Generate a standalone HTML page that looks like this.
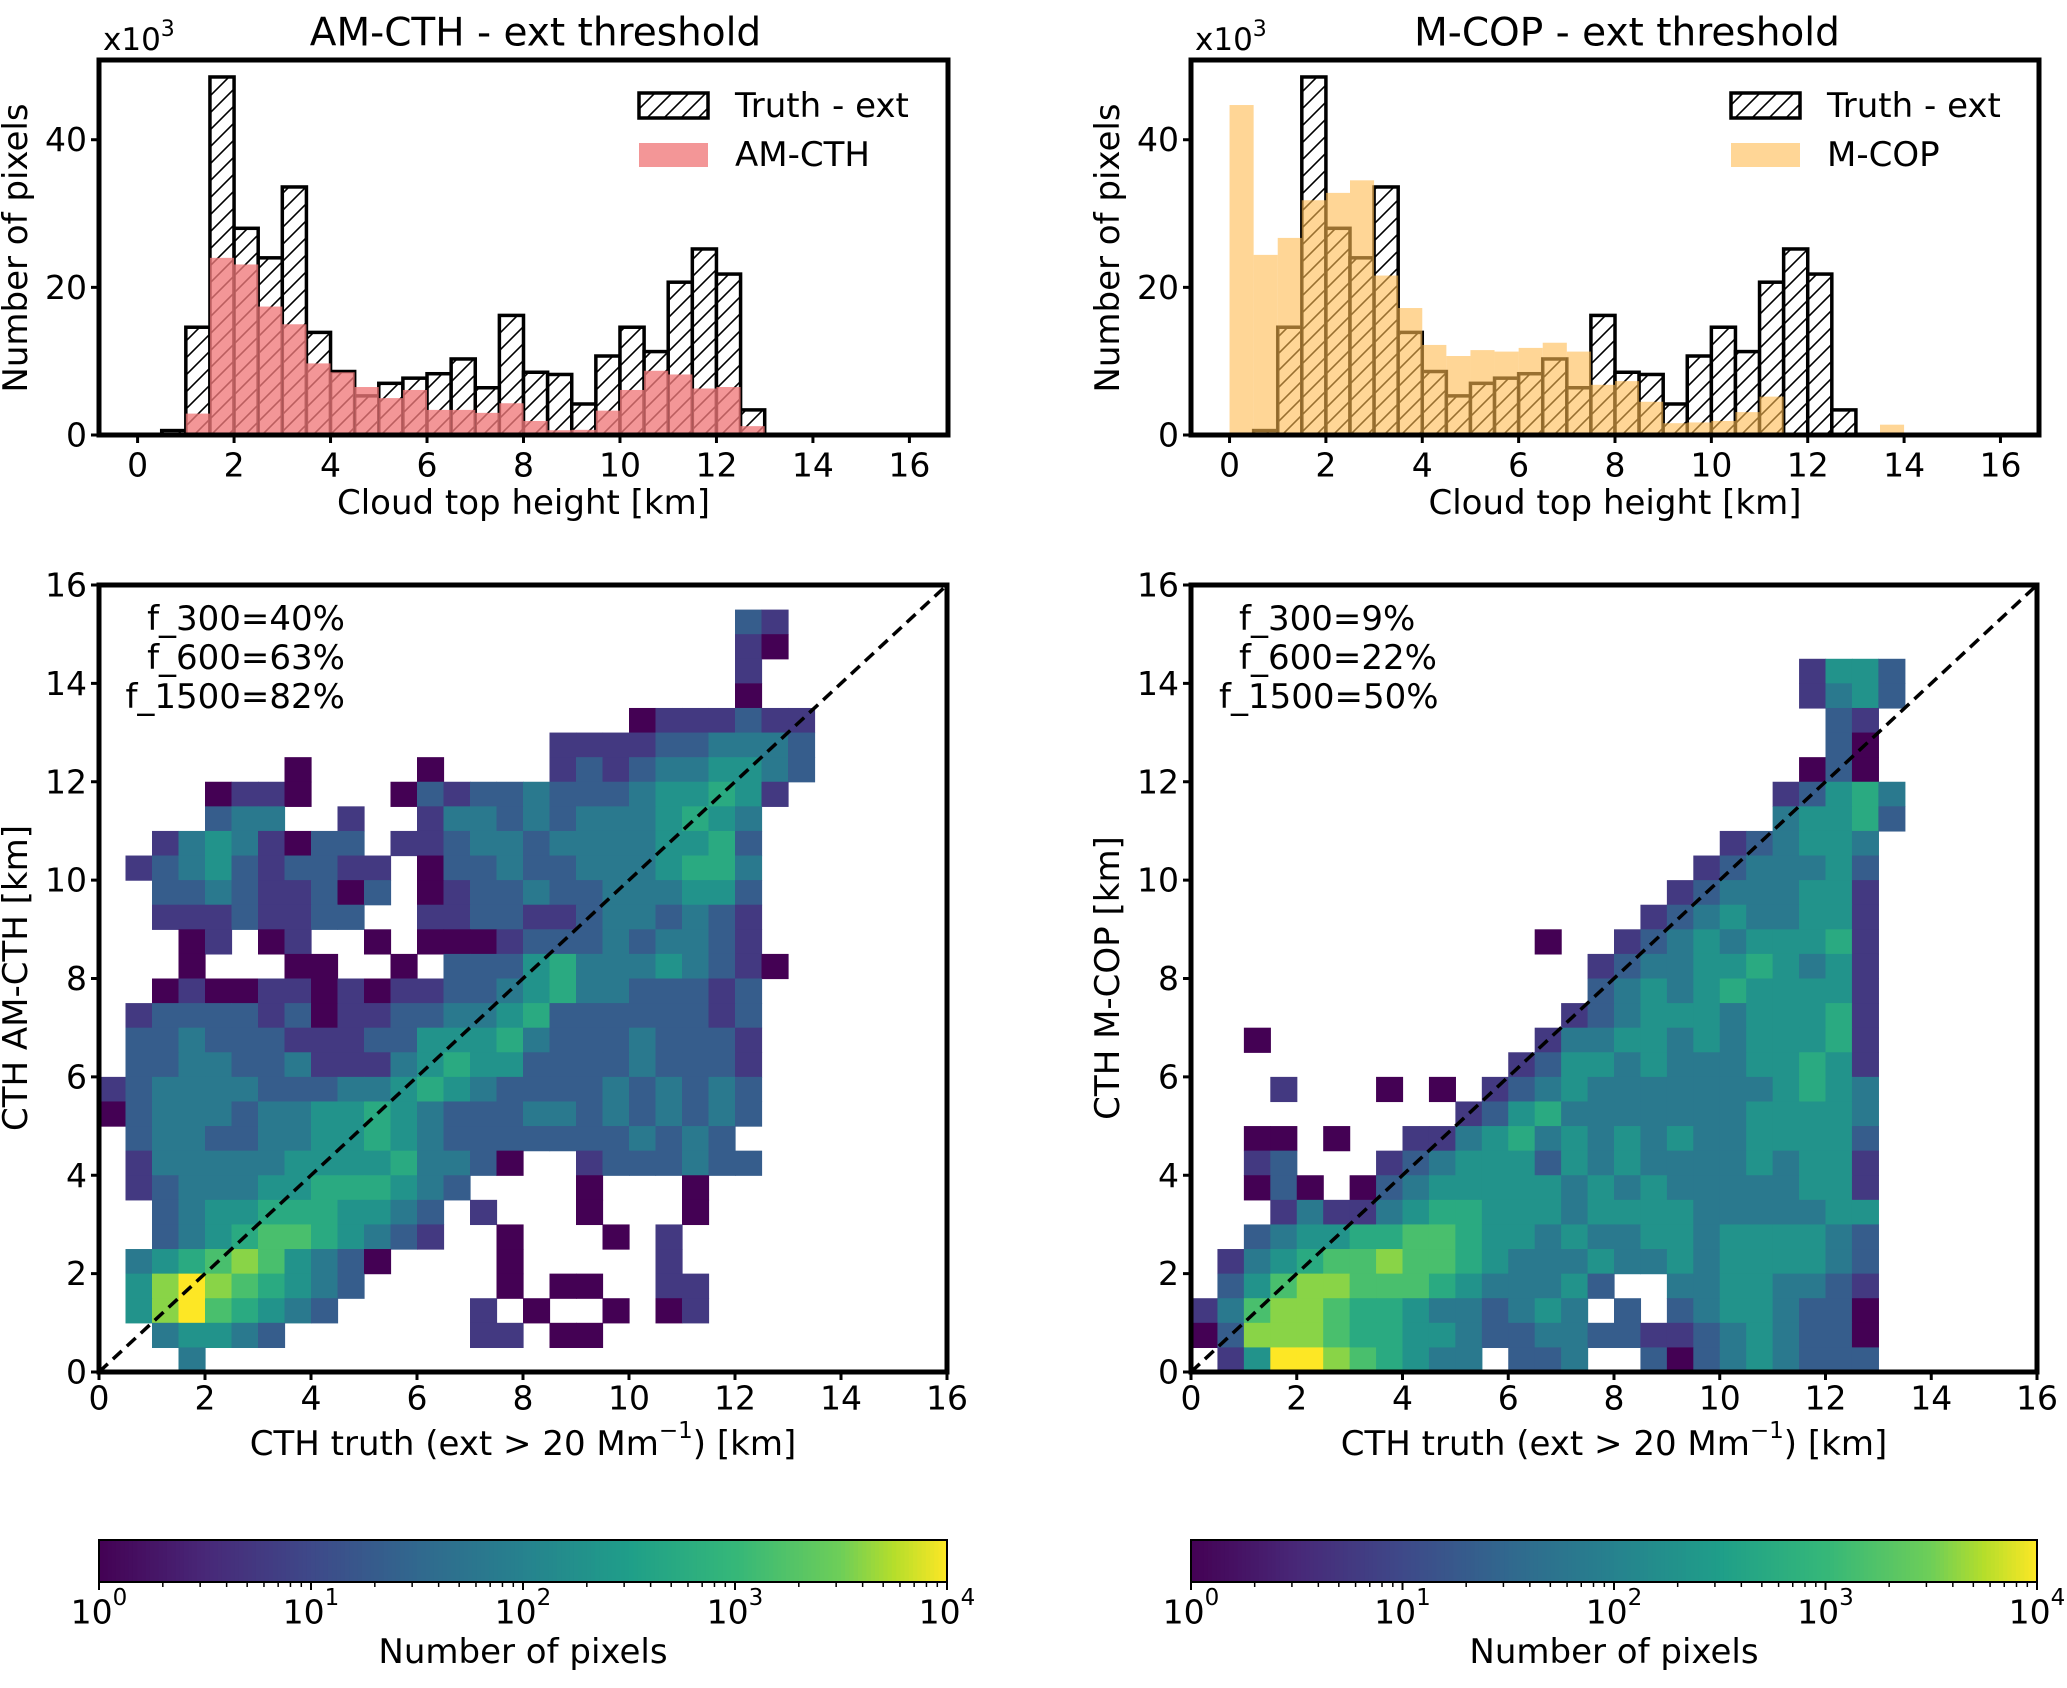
<!DOCTYPE html>
<html><head><meta charset="utf-8"><style>
html,body{margin:0;padding:0;background:#fff;}
svg{display:block;font-family:"DejaVu Sans","Liberation Sans",sans-serif;}
</style></head><body>
<svg id="fig" width="2067" height="1688" viewBox="0 0 2067 1688" xmlns="http://www.w3.org/2000/svg">
<defs>
<pattern id="hatch" patternUnits="userSpaceOnUse" width="17" height="17">
<path d="M0,17 L17,0 M-4,4 L4,-4 M13,21 L21,13" stroke="#000" stroke-width="1.6"/>
</pattern>
</defs>
</svg>
<script>
// ---------- data ----------
const histBins = [0,0.5,1,1.5,2,2.5,3,3.5,4,4.5,5,5.5,6,6.5,7,7.5,8,8.5,9,9.5,10,10.5,11,11.5,12,12.5,13,13.5,14,14.5,15,15.5];
const truthCounts = [0,0.6,14.6,48.5,28,24,33.6,13.9,8.6,5.3,7.0,7.7,8.3,10.3,6.4,16.2,8.5,8.2,4.2,10.7,14.6,11.3,20.7,25.2,21.8,3.4,0,0,0,0,0,0];
const amCounts = [0,0,2.9,24,23.1,17.4,15,9.7,8.5,6.5,5.0,6.1,3.4,3.4,3.0,4.3,1.9,0.65,0.7,3.3,6.1,8.7,8.2,6.3,6.5,1.2,0,0,0,0,0,0];
const mcopCounts = [44.7,24.4,26.7,31.8,32.8,34.5,21.6,17.2,12.2,10.7,11.5,11.3,11.8,12.5,11.3,6.8,7.3,4.5,1.6,1.7,1.9,3.1,5.2,0,0,0,0,1.4,0,0,0,0];
const histXTicks = [0,2,4,6,8,10,12,14,16];
const histYTicks = [0,20,40];
const scatXTicks = [0,2,4,6,8,10,12,14,16];
const scatYTicks = [0,2,4,6,8,10,12,14,16];
const cbarExps = [0,1,2,3,4];
// 2D histogram rows (top row = 15.5-16 km), segments [startCol, levels]; level k -> log10(count)=(k-1)/2
const amRows = [
 [],[[24,"32"]],[[24,"21"]],[[24,"2"]],[[24,"1"]],
 [[20,"1222322"]],
 [[17,"2222334443"]],
 [[7,"1"],[12,"1"],[17,"2323445543"]],
 [[4,"1221"],[11,"13"],[13,"2334333455652"]],
 [[4,"344"],[9,"2"],[12,"2443434445654"]],
 [[2,"24542133"],[11,"22344344445563"]],
 [[1,"2345323322"],[12,"1334334445664"]],
 [[2,"334322313"],[12,"1233433444553"]],
 [[2,"22232233"],[12,"2233223443432"]],
 [[3,"12012"],[10,"1"],[12,"1112333434432"]],
 [[3,"1"],[7,"11"],[11,"1"],[13,"33356444543"],[24,"21"]],
 [[2,"1211221212"],[12,"2334564433323"]],
 [[1,"233332312233445633333323"]],
 [[1,"3343332223355564333433"],[23,"32"]],
 [[1,"33443342224565533334333"],[24,"2"]],
 [[0,"2344443334456543333434343"]],
 [[0,"1344434455654333443434343"]],
 [[1,"34433445565433333334343"]],
 [[1,"24444455556443"],[15,"1"],[18,"2333433"]],
 [[1,"2344455666543"],[18,"1"],[22,"1"]],
 [[2,"34556665543"],[14,"2"],[18,"1"],[22,"1"]],
 [[2,"3456776543"],[12,"2"],[15,"1"],[19,"1"],[21,"2"]],
 [[1,"456787543"],[10,"1"],[15,"1"],[21,"2"]],
 [[1,"589876543"],[15,"1"],[17,"11"],[21,"22"]],
 [[1,"58976543"],[14,"2"],[16,"1"],[19,"1"],[21,"12"]],
 [[2,"45543"],[14,"22"],[17,"1"],[18,"1"]],
 [[3,"4"]]
];
const mcopRows = [
 [],[],[],
 [[23,"2553"]],
 [[23,"2453"]],
 [[24,"32"]],
 [[24,"31"]],
 [[23,"131"]],
 [[22,"23564"]],
 [[22,"45563"]],
 [[20,"234554"]],
 [[19,"2344453"]],
 [[18,"23444552"]],
 [[17,"234544552"]],
 [[13,"1"],[16,"2345455562"]],
 [[15,"23445565452"]],
 [[15,"34545655552"]],
 [[14,"234555455562"]],
 [[2,"1"],[13,"2445545455562"]],
 [[12,"23554544455652"]],
 [[3,"2"],[7,"1"],[9,"1"],[11,"234544444445654"]],
 [[10,"2356444444455554"]],
 [[2,"1"],[3,"1"],[5,"1"],[8,"224564545454455553"]],
 [[2,"23"],[7,"2345553545444454552"]],
 [[2,"131"],[6,"13455555454544444552"]],
 [[3,"24"],[5,"224566555455554444455"]],
 [[2,"345566776554544554555543"]],
 [[1,"2456778776544454454555543"]],
 [[1,"3578877765444530044554432"]],
 [[0,"24788766544345403034554331"]],
 [[0,"13888766554334433223454331"]],
 [[1,"2599876544033400313454333"]]
];

// ---------- helpers ----------
const NS = "http://www.w3.org/2000/svg";
const svg = document.getElementById('fig');
function el(tag, attrs, parent){
  const e = document.createElementNS(NS, tag);
  for (const k in attrs) e.setAttribute(k, attrs[k]);
  (parent||svg).appendChild(e);
  return e;
}
function txt(s, x, y, size, anchor, parent){
  const t = el('text', {x:x, y:y, 'font-size':size, 'text-anchor':anchor||'middle', 'dominant-baseline':'central', fill:'#000'}, parent);
  t.textContent = s;
  return t;
}
const VIR = ["#440154","#482878","#3e4989","#31688e","#26828e","#1f9e89","#35b779","#6ece58","#b5de2b","#fde725"];
function hex2rgb(h){return [parseInt(h.slice(1,3),16),parseInt(h.slice(3,5),16),parseInt(h.slice(5,7),16)];}
function viridis(t){
  t=Math.max(0,Math.min(1,t));
  const stops=[0,0.125,0.25,0.375,0.5,0.625,0.75,0.875,0.9375,1];
  let i=0; while(i<stops.length-2 && t>stops[i+1]) i++;
  const f=(t-stops[i])/(stops[i+1]-stops[i]);
  const a=hex2rgb(VIR[i]), b=hex2rgb(VIR[i+1]);
  return 'rgb('+a.map((v,j)=>Math.round(v+(b[j]-v)*f)).join(',')+')';
}

// ---------- histogram panel ----------
function histPanel(px0, px1, title, name, other, otherColor, otherLabel){
  const y0=60, y1=435, xmin=-0.8, xmax=16.8, ymax=50.8;
  const X = v => px0 + (v-xmin)/(xmax-xmin)*(px1-px0);
  const Y = v => y1 - v/ymax*(y1-y0);
  const g = el('g', {});
  
  
  const bw = 0.5;
  histBins.forEach((b,i)=>{
    if (truthCounts[i] <= 0) return;
    const r = el('rect', {x:X(b), y:Y(truthCounts[i]), width:X(b+bw)-X(b), height:Y(0)-Y(truthCounts[i]), fill:'#fff'}, g);
    
    
    el('rect', {x:X(b), y:Y(truthCounts[i]), width:X(b+bw)-X(b), height:Y(0)-Y(truthCounts[i]), fill:'url(#hatch)', stroke:'#000', 'stroke-width':3.5}, g);
  });
  histBins.forEach((b,i)=>{
    if (other[i] <= 0) return;
    const r = el('rect', {x:X(b), y:Y(other[i]), width:X(b+bw)-X(b), height:Y(0)-Y(other[i]), fill:otherColor}, g);
    
    
  });
  const fr = el('rect', {x:px0, y:y0, width:px1-px0, height:y1-y0, fill:'none', stroke:'#000', 'stroke-width':5}, g);
  
  
  histXTicks.forEach(v=>{
    el('line', {x1:X(v), x2:X(v), y1:y1, y2:y1+8, stroke:'#000', 'stroke-width':3}, g);
    const t = txt(String(v), X(v), y1+30, 33, 'middle', g);
    
    
  });
  histYTicks.forEach(v=>{
    el('line', {x1:px0-8, x2:px0, y1:Y(v), y2:Y(v), stroke:'#000', 'stroke-width':3}, g);
    const t = txt(String(v), px0-12, Y(v), 33, 'end', g);
    
    
  });
  const ti = txt(title, (px0+px1)/2+12, 33, 39, 'middle', g);
  
  
  const sc = el('text', {x:px0+4, y:50, 'font-size':31, 'text-anchor':'start'}, g);
  
  
  sc.innerHTML = 'x10<tspan dy="-14" font-size="22">3</tspan>';
  const xl = txt('Cloud top height [km]', (px0+px1)/2, 503, 34, 'middle', g);
  
  
  const yl = txt('Number of pixels', 0, 0, 34, 'middle', g);
  yl.setAttribute('transform', 'translate('+(px0-83)+',248) rotate(-90)');
  
  
  const lx = px0 + 540;
  const l1 = el('g', {}, g);
  
  
  el('rect', {x:lx, y:93, width:69, height:25, fill:'url(#hatch)', stroke:'#000', 'stroke-width':3.5}, l1);
  txt('Truth - ext', lx+96, 106, 34, 'start', l1);
  const l2 = el('g', {}, g);
  
  
  el('rect', {x:lx, y:143, width:69, height:24, fill:otherColor}, l2);
  txt(otherLabel, lx+96, 155, 34, 'start', l2);
}

// ---------- scatter (2D hist) panel ----------
function scatPanel(px0, px1, rows, name, ylab, annots, annotXs, annotAnchor){
  const y0=585, y1=1372;
  const X = v => px0 + v/16*(px1-px0);
  const Y = v => y1 - v/16*(y1-y0);
  const g = el('g', {});
  
  
  const cw = 0.5;
  rows.forEach((segs, r)=>{
    const yTop = 16 - cw*r;
    segs.forEach(([c0, s])=>{
      for (let k=0;k<s.length;k++){
        const lev = parseInt(s[k]);
        if (!lev) continue;
        const xl = (c0+k)*cw;
        const logc = (lev-1)/2;
        const cell = el('rect', {x:X(xl), y:Y(yTop), width:X(xl+cw)-X(xl)+0.6, height:Y(yTop-cw)-Y(yTop)+0.6, fill:viridis(Math.pow(logc/4, 0.8))}, g);
        
        
      }
    });
  });
  const dl = el('line', {x1:X(0), y1:Y(0), x2:X(16), y2:Y(16), stroke:'#000', 'stroke-width':3.5, 'stroke-dasharray':'12,7'}, g);
  
  
  const fr = el('rect', {x:px0, y:y0, width:px1-px0, height:y1-y0, fill:'none', stroke:'#000', 'stroke-width':5}, g);
  
  
  scatXTicks.forEach(v=>{
    el('line', {x1:X(v), x2:X(v), y1:y1, y2:y1+8, stroke:'#000', 'stroke-width':3}, g);
    const t = txt(String(v), X(v), 1398, 33, 'middle', g);
    
    
  });
  scatYTicks.forEach(v=>{
    el('line', {x1:px0-8, x2:px0, y1:Y(v), y2:Y(v), stroke:'#000', 'stroke-width':3}, g);
    const t = txt(String(v), px0-12, Y(v), 33, 'end', g);
    
    
  });
  const xl = el('text', {x:(px0+px1)/2, y:1444, 'font-size':34, 'text-anchor':'middle', 'dominant-baseline':'central'}, g);
  
  
  xl.innerHTML = 'CTH truth (ext &gt; 20 Mm<tspan dy="-13" font-size="23">\u22121</tspan><tspan dy="13">) [km]</tspan>';
  const yl = txt(ylab, 0, 0, 34, 'middle', g);
  yl.setAttribute('transform', 'translate('+(px0-83)+',978) rotate(-90)');
  
  
  annots.forEach((a,i)=>{
    const t = txt(a, annotXs[i], 619+i*39, 34, annotAnchor, g);
    
    
  });
}

// ---------- colorbar ----------
function colorbar(px0, px1, name){
  const y0=1540, y1=1582;
  const g = el('g', {});
  
  
  const n = 200;
  for (let i=0;i<n;i++){
    const x = px0 + i/n*(px1-px0);
    el('rect', {x:x, y:y0, width:(px1-px0)/n+0.8, height:y1-y0, fill:viridis((i+0.5)/n)}, g);
  }
  el('rect', {x:px0, y:y0, width:px1-px0, height:y1-y0, fill:'none', stroke:'#000', 'stroke-width':2}, g);
  const L = v => px0 + v/4*(px1-px0);
  cbarExps.forEach(e=>{
    el('line', {x1:L(e), x2:L(e), y1:y1, y2:y1+8, stroke:'#000', 'stroke-width':2}, g);
    const t = el('text', {x:L(e), y:1612, 'font-size':33, 'text-anchor':'middle', 'dominant-baseline':'central'}, g);
    
    
    t.innerHTML = '10<tspan dy="-14" font-size="23">'+e+'</tspan>';
    if (e<4) for (let m=2;m<10;m++){
      const xm = L(e+Math.log10(m));
      el('line', {x1:xm, x2:xm, y1:y1, y2:y1+5, stroke:'#000', 'stroke-width':1.5}, g);
    }
  });
  const lab = txt('Number of pixels', (px0+px1)/2, 1652, 34, 'middle', g);
  
  
}

histPanel(99, 948, 'AM-CTH - ext threshold', 'am-cth', amCounts, 'rgba(240,120,122,0.78)', 'AM-CTH');
histPanel(1191, 2039, 'M-COP - ext threshold', 'm-cop', mcopCounts, 'rgba(255,186,80,0.6)', 'M-COP');
scatPanel(99, 947, amRows, 'am-cth', 'CTH AM-CTH [km]', ['f_300=40%','f_600=63%','f_1500=82%'], [345,345,345], 'end');
scatPanel(1191, 2037, mcopRows, 'm-cop', 'CTH M-COP [km]', ['f_300=9%','f_600=22%','f_1500=50%'], [1239,1239,1219], 'start');
colorbar(99, 947, 'am-cth');
colorbar(1191, 2037, 'm-cop');
</script>
</body></html>
